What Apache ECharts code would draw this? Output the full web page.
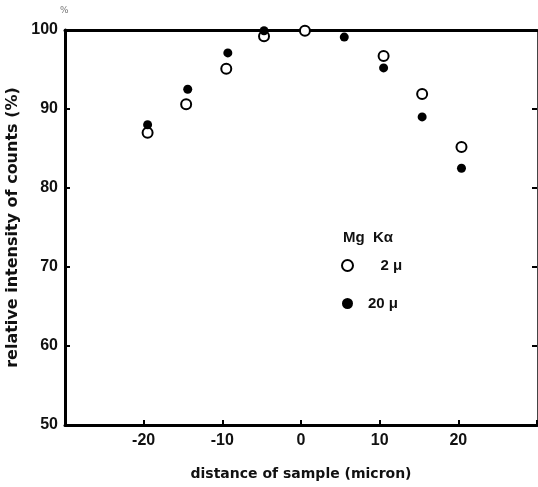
<!DOCTYPE html>
<html>
<head>
<meta charset="utf-8">
<script src="https://cdn.jsdelivr.net/npm/echarts@6/dist/echarts.min.js"></script>
<style>
  html,body{margin:0;padding:0;background:#fff;}
  #main{width:538px;height:487px;}
</style>
</head>
<body>
<div id="main"></div>
<script>
// distance of sample (micron) vs relative intensity (%)
var open2x = [-19.5, -14.6, -9.5, -4.7, 0.5, 10.5, 15.4, 20.4];
var open2y = [87.0, 90.6, 95.1, 99.2, 99.9, 96.7, 91.9, 85.2];
var fill20x = [-19.5, -14.4, -9.3, -4.7, 5.5, 10.5, 15.4, 20.4];
var fill20y = [88.0, 92.5, 97.1, 99.9, 99.1, 95.2, 89.0, 82.5];
var xTicks = [-20, -10, 0, 10, 20];
var yTicks = [50, 60, 70, 80, 90, 100];

function pairs(xs, ys){
  var out = [];
  for (var i = 0; i < xs.length; i++) out.push([xs[i], ys[i]]);
  return out;
}

var chart = echarts.init(document.getElementById('main'));
var tickFont = {color:'#111', fontSize:16, fontWeight:'bold', fontFamily:'Liberation Sans'};

var option = {
  backgroundColor:'#fff',
  animation:false,
  grid:{left:65, top:30, width:472, bottom:62, outerBoundsMode:'none', containLabel:false},
  title:{
    text:'Mg  K\u03b1',
    left:338, top:225,
    textStyle:{fontSize:15, fontWeight:'bold', color:'#111', fontFamily:'Liberation Sans'}
  },
  legend:{
    orient:'vertical',
    left:341, top:258, padding:0,
    itemWidth:11, itemHeight:11,
    itemGap:23,
    data:['2 \u03bc', '20 \u03bc'],
    textStyle:{fontSize:15, fontWeight:'bold', color:'#111', fontFamily:'Liberation Sans', padding:[0,0,0,10]},
    formatter:function(n){ return n === '2 \u03bc' ? '   ' + n : n; }
  },
  xAxis:[{
    type:'value', min:-30, max:30, interval:10,
    name:'distance of sample (micron)',
    nameLocation:'middle', nameGap:42,
    nameTextStyle:{fontSize:14, fontWeight:'bold', color:'#111', fontFamily:'DejaVu Sans'},
    axisLine:{onZero:false, lineStyle:{color:'#000', width:3}},
    axisTick:{show:true, inside:true, length:5, lineStyle:{color:'#000', width:2}},
    axisLabel:{margin:8, formatter:function(v){ return xTicks.indexOf(v) >= 0 ? String(v) : ''; }, ...tickFont},
    splitLine:{show:false}
  },{
    type:'value', position:'top', min:-30, max:30, interval:10,
    axisLine:{show:true, onZero:false, lineStyle:{color:'#000', width:3}},
    axisTick:{show:false}, axisLabel:{show:false}, splitLine:{show:false}
  }],
  yAxis:[{
    type:'value', min:50, max:100, interval:10,
    name:'relative intensity of counts (%)',
    nameLocation:'middle', nameGap:40,
    nameTextStyle:{fontSize:16, fontWeight:'bold', color:'#111', fontFamily:'DejaVu Sans'},
    axisLine:{show:true, onZero:false, lineStyle:{color:'#000', width:3}},
    axisTick:{show:true, inside:true, length:5, lineStyle:{color:'#000', width:2}},
    axisLabel:{margin:7, formatter:function(v){ return yTicks.indexOf(v) >= 0 ? String(v) : ''; }, ...tickFont},
    splitLine:{show:false}
  },{
    type:'value', position:'right', min:50, max:100, interval:10,
    axisLine:{show:true, onZero:false, lineStyle:{color:'#444', width:1}},
    axisTick:{show:true, inside:true, length:5, lineStyle:{color:'#000', width:2}},
    axisLabel:{show:false}, splitLine:{show:false}
  }],
  series:[{
    name:'2 \u03bc',
    type:'scatter',
    symbol:'emptyCircle',
    symbolSize:10,
    itemStyle:{color:'#000', borderColor:'#000', borderWidth:1.2, opacity:1},
    data:pairs(open2x, open2y)
  },{
    name:'20 \u03bc',
    type:'scatter',
    symbol:'circle',
    symbolSize:9,
    itemStyle:{color:'#000', opacity:1},
    data:pairs(fill20x, fill20y)
  }],
  graphic:[{
    type:'text', left:60, top:6,
    style:{text:'%', fontSize:9, fill:'#777', fontFamily:'DejaVu Sans'}
  }]
};

chart.setOption(option);
</script>
</body>
</html>
